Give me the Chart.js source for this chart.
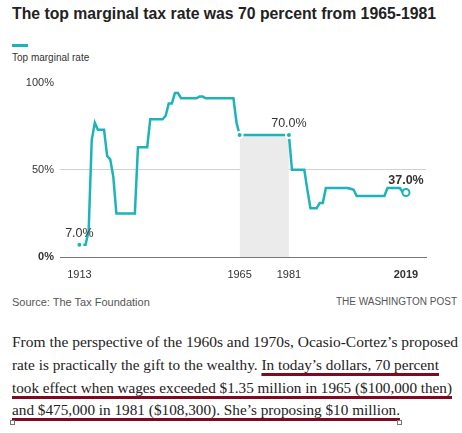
<!DOCTYPE html>
<html>
<head>
<meta charset="utf-8">
<script src="https://cdn.jsdelivr.net/npm/chart.js@4.4.1/dist/chart.umd.min.js"></script>
<style>
  html, body { margin: 0; padding: 0; background: #fff; }
  body { width: 462px; height: 433px; position: relative; overflow: hidden; font-family: "Liberation Sans", Arial, sans-serif; }
  .abs { position: absolute; white-space: nowrap; line-height: 1; }
  #title { left: 12px; top: 6px; font-size: 16px; font-weight: bold; color: #222; transform-origin: 0 0; }
  #key { left: 12px; top: 44px; width: 16px; height: 2.5px; background: #1db3b8; }
  #keyLabel { left: 12px; top: 53px; font-size: 10px; color: #333; }
  #chartBox { position: absolute; left: 0; top: 70px; width: 462px; height: 220px; }
  #source { left: 12px; top: 296.5px; font-size: 11px; color: #555; }
  #credit { right: 5px; top: 297px; font-size: 10px; color: #555; }
  .line { left: 12px; font-family: "Liberation Serif", serif; font-size: 14px; color: #222; transform-origin: 0 0; }
  .ul { text-decoration: underline; text-decoration-color: #7d0a1f; text-decoration-thickness: 3px; text-underline-offset: 3px; }
  .handle { position: absolute; width: 3px; height: 3px; border: 1px solid #777; background: #fff; top: 420px; }
</style>
</head>
<body>
<div id="title" class="abs">The top marginal tax rate was 70 percent from 1965-1981</div>
<div id="key" class="abs"></div>
<div id="keyLabel" class="abs">Top marginal rate</div>
<div id="chartBox"><canvas id="rate-chart"></canvas></div>
<div id="source" class="abs">Source: The Tax Foundation</div>
<div id="credit" class="abs">THE WASHINGTON POST</div>

<div id="p1" class="abs line" style="top:336.3px">From the perspective of the 1960s and 1970s, Ocasio-Cortez’s proposed</div>
<div id="p2" class="abs line" style="top:359px">rate is practically the gift to the wealthy. <span class="ul">In today’s dollars, 70 percent</span></div>
<div id="p3" class="abs line" style="top:381.8px"><span class="ul">took effect when wages exceeded $1.35 million in 1965 ($100,000 then)</span></div>
<div id="p4" class="abs line" style="top:403.8px"><span class="ul">and $475,000 in 1981 ($108,300). She’s proposing $10 million.</span></div>
<div class="handle" style="left:10px"></div>
<div class="handle" style="left:397px"></div>

<script>
const years = [
    1913, 1914, 1915, 1916, 1917, 1918, 1919,
    1920, 1921, 1922, 1923, 1924, 1925, 1926, 1927, 1928, 1929,
    1930, 1931, 1932, 1933, 1934, 1935, 1936, 1937, 1938, 1939,
    1940, 1941, 1942, 1943, 1944, 1945, 1946, 1947, 1948, 1949,
    1950, 1951, 1952, 1953, 1954, 1955, 1956, 1957, 1958, 1959,
    1960, 1961, 1962, 1963, 1964, 1965, 1966, 1967, 1968, 1969,
    1970, 1971, 1972, 1973, 1974, 1975, 1976, 1977, 1978, 1979,
    1980, 1981, 1982, 1983, 1984, 1985, 1986, 1987, 1988, 1989,
    1990, 1991, 1992, 1993, 1994, 1995, 1996, 1997, 1998, 1999,
    2000, 2001, 2002, 2003, 2004, 2005, 2006, 2007, 2008, 2009,
    2010, 2011, 2012, 2013, 2014, 2015, 2016, 2017, 2018, 2019
];
const rates = [
    7, 7, 7, 15, 67, 77, 73,
    73, 73, 58, 56, 46, 25, 25, 25, 25, 25,
    25, 25, 63, 63, 63, 63, 79, 79, 79, 79,
    79, 81, 88, 88, 94, 94, 91, 91, 91, 91,
    91, 91, 92, 92, 91, 91, 91, 91, 91, 91,
    91, 91, 91, 91, 77, 70, 70, 70, 70, 70,
    70, 70, 70, 70, 70, 70, 70, 70, 70, 70,
    70, 70, 50, 50, 50, 50, 50, 38.5, 28, 28,
    28, 31, 31, 39.6, 39.6, 39.6, 39.6, 39.6, 39.6, 39.6,
    39.6, 39.1, 38.6, 35, 35, 35, 35, 35, 35, 35,
    35, 35, 35, 39.6, 39.6, 39.6, 39.6, 39.6, 37, 37
];
const markerYears = [1913, 1965, 1981];
const openMarkerYears = [2019];
const bandYears = [1965, 1981];
const labelYears = [1913, 1981, 2019];
const labelTexts = ['7.0%', '70.0%', '37.0%'];
const xTicks = [1913, 1965, 1981, 2019];
const yTicks = [0, 50, 100];

const teal = '#1db3b8';
const fontFamily = '"Liberation Sans", Arial, sans-serif';

function fitWidth(id, target) {
    const el = document.getElementById(id);
    const w = el.getBoundingClientRect().width;
    el.style.transform = 'scaleX(' + (target / w) + ')';
}

const labelPlugin = {
    id: 'pointLabels',
    afterDatasetsDraw(chart) {
        const ctx = chart.ctx;
        const x = chart.scales.x;
        const y = chart.scales.y;
        ctx.save();
        ctx.textAlign = 'center';
        ctx.textBaseline = 'alphabetic';
        ctx.fillStyle = '#333';
        labelYears.forEach((yr, i) => {
            const v = rates[years.indexOf(yr)];
            const last = i === labelYears.length - 1;
            ctx.font = (last ? 'bold ' : '') + '12.5px ' + fontFamily;
            ctx.fillText(labelTexts[i], x.getPixelForValue(yr), y.getPixelForValue(v) - 8);
        });
        ctx.restore();
    }
};

function drawChart() {
    const points = years.map((yr, i) => ({ x: yr, y: rates[i] }));
    const bandPoints = points.filter(p => p.x >= bandYears[0] && p.x <= bandYears[1]);

    const isFilled = c => markerYears.includes(years[c.dataIndex]);
    const isOpen = c => openMarkerYears.includes(years[c.dataIndex]);

    const ctx = document.getElementById('rate-chart').getContext('2d');
    new Chart(ctx, {
        type: 'line',
        data: {
            datasets: [{
                label: 'Top marginal rate',
                data: points,
                borderColor: teal,
                borderWidth: 2.5,
                tension: 0,
                fill: false,
                order: 1,
                pointRadius: c => (isFilled(c) ? 3 : (isOpen(c) ? 3.5 : 0)),
                pointBackgroundColor: c => (isOpen(c) ? '#fff' : teal),
                pointBorderColor: c => (isOpen(c) ? teal : '#fff'),
                pointBorderWidth: c => (isOpen(c) ? 2 : 2)
            }, {
                label: 'band',
                data: bandPoints,
                borderWidth: 0,
                backgroundColor: '#ebebeb',
                fill: 'origin',
                pointRadius: 0,
                order: 2
            }]
        },
        options: {
            responsive: true,
            maintainAspectRatio: false,
            animation: false,
            layout: { padding: { top: 11.6, right: 36, left: 0, bottom: 0 } },
            plugins: { legend: { display: false }, tooltip: { enabled: false } },
            scales: {
                x: {
                    type: 'linear',
                    min: 1906.7,
                    max: 2025.5,
                    z: 1,
                    afterBuildTicks: s => { s.ticks = xTicks.map(v => ({ value: v })); },
                    afterFit: s => { s.height = 33; },
                    grid: { display: false, drawTicks: false },
                    border: { display: true, color: '#777', width: 1 },
                    ticks: {
                        padding: 11,
                        color: '#333',
                        maxRotation: 0,
                        autoSkip: false,
                        font: c => ({ family: fontFamily, size: 11, weight: c.tick && c.tick.value === 2019 ? 'bold' : 'normal' }),
                        callback: v => String(v)
                    }
                },
                y: {
                    min: 0,
                    max: 100,
                    afterBuildTicks: s => { s.ticks = yTicks.map(v => ({ value: v })); },
                    afterFit: s => { s.width = 60; },
                    grid: {
                        drawTicks: false,
                        lineWidth: 1,
                        color: c => (c.tick && c.tick.value === 50 ? '#d0d0d0' : 'rgba(0,0,0,0)')
                    },
                    border: { display: false },
                    ticks: {
                        padding: 6,
                        color: '#333',
                        font: c => ({ family: fontFamily, size: 11, weight: c.tick && c.tick.value === 0 ? 'bold' : 'normal' }),
                        callback: v => v + '%'
                    }
                }
            }
        },
        plugins: [labelPlugin]
    });
}

document.fonts.ready.then(() => {
    fitWidth('title', 424);
    fitWidth('p1', 446);
    fitWidth('p2', 427);
    fitWidth('p3', 440);
    fitWidth('p4', 388);
    drawChart();
});
</script>
</body>
</html>
